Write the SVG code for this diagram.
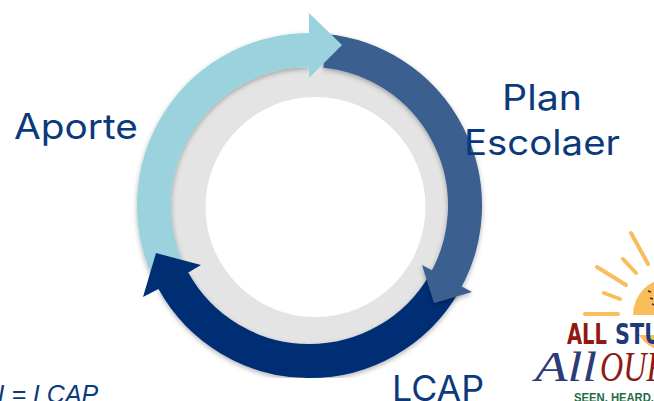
<svg xmlns="http://www.w3.org/2000/svg" width="654" height="401" viewBox="0 0 654 401">
<style>
.arc{fill:none;stroke-width:34}
.label{font-family:Inter,"Liberation Sans",sans-serif;font-size:35px;fill:#0b3a7c}
.ray{stroke:#f9bd5c;stroke-width:4;stroke-linecap:round;fill:none}
.bold{font-family:"DejaVu Sans Condensed","DejaVu Sans",sans-serif;font-weight:700;font-size:28px}
.script{font-family:"Liberation Serif",serif;font-style:italic;font-size:42px}
</style>
<defs>
<filter id="sh" x="-20%" y="-20%" width="140%" height="140%"><feDropShadow dx="0" dy="2" stdDeviation="2.5" flood-color="#000" flood-opacity="0.3"/></filter>
</defs>
<rect width="654" height="401" fill="#fff"/>
<g id="ring"><circle cx="309.5" cy="205.5" r="145" fill="#e4e4e4"/><circle cx="315.5" cy="207" r="110" fill="#fff"/></g>
<g id="connectors">
<path class="arc" stroke="#002f74" filter="url(#sh)" d="M444.1 283.4A155.5 155.5 0 0 1 173.4 280.8"/>
<g filter="url(#sh)"><path class="arc" stroke="#3a608f" d="M325 50.8A155.5 155.5 0 0 1 444.1 283.4"/><polygon fill="#3a608f" points="422,265 472,292 434,303"/></g>
<path class="arc" stroke="#9ad3de" filter="url(#sh)" d="M167.8 269.6A155.5 155.5 0 0 1 309.5 50"/>
<polygon fill="#9ad3de" points="309,13 342,45 309,78"/>
<polygon fill="#002f74" points="156,253 201,265 187.5,273 188,284 166,297 158.5,289 143,297"/>
</g>
<g id="node-aporte"><text class="label" x="14" y="139" textLength="124" lengthAdjust="spacingAndGlyphs">Aporte</text></g>
<g id="node-plan"><text class="label" x="502" y="110" textLength="80" lengthAdjust="spacingAndGlyphs">Plan</text><text class="label" x="464" y="155" textLength="156" lengthAdjust="spacingAndGlyphs">Escolaer</text></g>
<g id="node-lcap"><text class="label" x="392" y="401" textLength="92" lengthAdjust="spacingAndGlyphs">LCAP</text></g>
<g id="note"><text x="-2.5" y="403" font-family="Liberation Sans,sans-serif" font-style="italic" font-size="25" fill="#0b3a7c">I = LCAP</text></g>
<g id="logo">
<path class="ray" d="M585 314H618M604 293L620 299M597 267L626 285M623 259L636 273M631 233L648 264"/>
<circle cx="670" cy="315" r="37" fill="#f9bd5c"/>
<rect x="625" y="315" width="29" height="20" fill="#fff"/>
<path d="M648 291l3 1M650 298l3 1M652 304l3 1" stroke="#3a3020" stroke-width="1.5" fill="none"/>
<text class="bold" x="567" y="344" fill="#8f1a14" textLength="40" lengthAdjust="spacingAndGlyphs">ALL</text>
<text class="bold" x="615" y="344" fill="#1f3a78" textLength="46" lengthAdjust="spacingAndGlyphs">STU</text>
<text class="script" x="535" y="381" fill="#2c3b7a" textLength="62" lengthAdjust="spacingAndGlyphs">All</text>
<text class="script" x="600" y="381" fill="#8f1a14" textLength="66" lengthAdjust="spacingAndGlyphs">OUR</text>
<text x="574" y="402" font-family="Liberation Sans,sans-serif" font-weight="700" font-size="13" fill="#1e6b45" textLength="80" lengthAdjust="spacingAndGlyphs">SEEN. HEARD.</text>
</g>
</svg>
